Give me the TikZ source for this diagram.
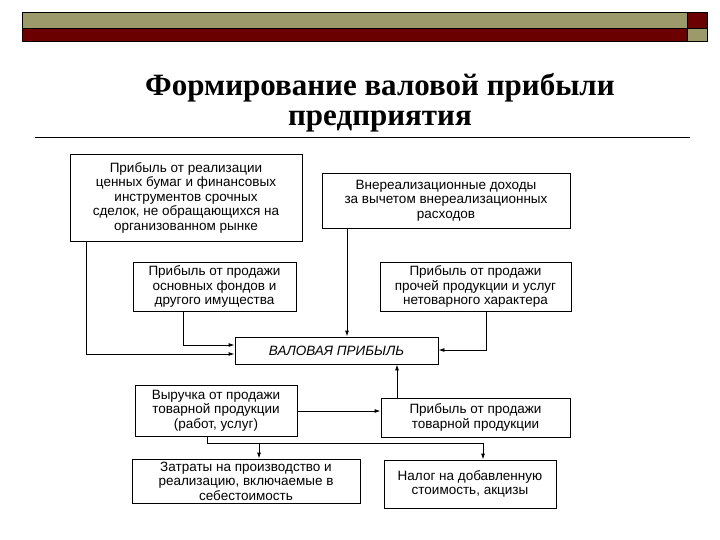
\documentclass[tikz,border=0pt]{standalone}
\usepackage{fontspec}
\setmainfont{Liberation Serif}
\setsansfont{Liberation Sans}
\usetikzlibrary{arrows.meta}
\definecolor{olive}{HTML}{9C9A6A}
\definecolor{dred}{HTML}{6B0000}
\begin{document}
\begin{tikzpicture}[x=1pt,y=-1pt,
 box/.style={draw,line width=0.9pt,align=center,font=\sffamily\fontsize{13.5}{14.5}\selectfont,inner sep=1pt},
 conn/.style={line width=0.9pt,-{Latex[length=6pt,width=4pt]}},
 ln/.style={line width=0.9pt}]
\useasboundingbox (0,0) rectangle (720,540);
\fill[white] (0,0) rectangle (720,540);
% header
\filldraw[fill=olive,draw=black] (22,12) rectangle (687,28);
\filldraw[fill=dred,draw=black] (22,28) rectangle (687,41);
\filldraw[fill=dred,draw=black] (687,12) rectangle (707,28);
\filldraw[fill=olive,draw=black] (687,28) rectangle (707,41);
\node (t1) at (380,88) {\bfseries\fontsize{31}{34}\selectfont Формирование валовой прибыли};
\node (t2) at (380,121) {\bfseries\fontsize{31}{34}\selectfont предприятия};
\draw[line width=0.5pt] (35,137) -- (690,137);
% boxes
\node[box,minimum width=232,minimum height=87] (b1) at (186,197.5) {Прибыль от реализации\\ценных бумаг и финансовых\\инструментов срочных\\сделок, не обращающихся на\\организованном рынке};
\node[box,minimum width=248,minimum height=55] (b2) at (446,200.5) {Внереализационные доходы\\за вычетом внереализационных\\расходов};
\node[box,minimum width=163,minimum height=49] (b3) at (214.5,286.5) {Прибыль от продажи\\основных фондов и\\другого имущества};
\node[box,minimum width=191,minimum height=49] (b4) at (475.5,286.5) {Прибыль от продажи\\прочей продукции и услуг\\нетоварного характера};
\node[box,minimum width=203,minimum height=27,font=\sffamily\itshape\fontsize{13.5}{14.5}\selectfont] (v) at (336.5,350.5) {ВАЛОВАЯ ПРИБЫЛЬ};
\node[box,minimum width=162,minimum height=51] (b5) at (216,410.5) {Выручка от продажи\\товарной продукции\\(работ, услуг)};
\node[box,minimum width=189,minimum height=39] (b6) at (475.5,417.5) {Прибыль от продажи\\товарной продукции};
\node[box,minimum width=228,minimum height=44] (b7) at (246,481) {Затраты на производство и\\реализацию, включаемые в\\себестоимость};
\node[box,minimum width=172,minimum height=48] (b8) at (470,484) {Налог на добавленную\\стоимость, акцизы};
% connectors
\coordinate (j1) at (86,354);
\coordinate (j2) at (183,345);
\coordinate (j3) at (486,350);
\coordinate (s) at (207,443);
\coordinate (sL) at (259,443);
\coordinate (sR) at (483,443);
\draw[conn] (b1.south west -| j1) -- (j1) -- (j1 -| v.west);
\draw[conn] (b3.south -| j2) -- (j2) -- (j2 -| v.west);
\draw[conn] (b2.south -| 347,0) -- (v.north -| 347,0);
\draw[conn] (b4.south -| j3) -- (j3) -- (j3 -| v.east);
\draw[conn] (b6.north -| 397,0) -- (v.south -| 397,0);
\draw[conn] (b5.east |- 0,411) -- (b6.west |- 0,411);
\draw[ln] (b5.south -| s) -- (s) -- (sR);
\draw[conn] (sL) -- (b7.north -| sL);
\draw[conn] (sR) -- (b8.north -| sR);
\end{tikzpicture}
\end{document}
